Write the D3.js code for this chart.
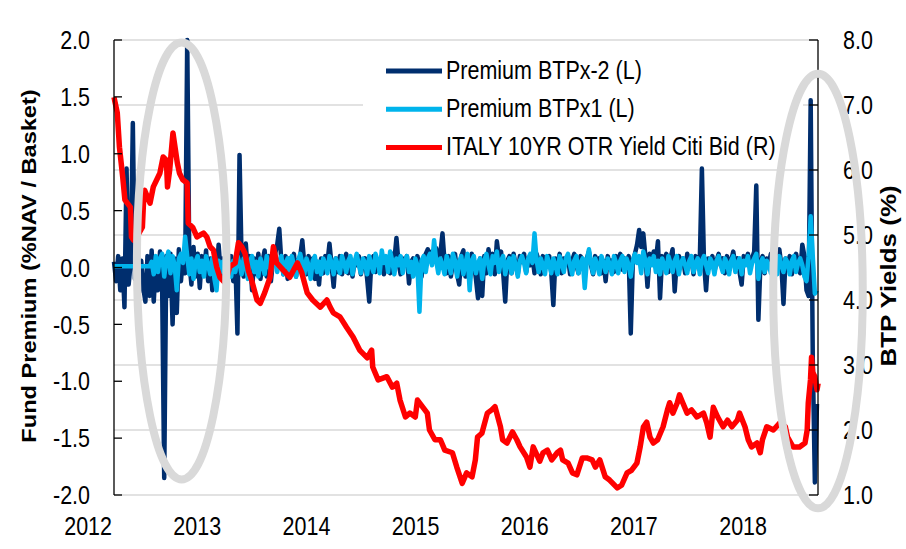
<!DOCTYPE html>
<html>
<head>
<meta charset="utf-8">
<script src="https://cdn.jsdelivr.net/npm/d3@7"></script>
<style>
  html, body { margin: 0; padding: 0; background: #fff; }
  svg { display: block; }
  text { font-family: "Liberation Sans", Arial, sans-serif; fill: #000; }
</style>
</head>
<body>
<svg id="chart" width="906" height="549"></svg>
<script>
// ---------------- DATA ----------------
// Weekly fund premium (% NAV / Basket), first week = first week of Jan 2012
const premiumBTPx2 = [
  // 2012
  0.05,-0.12,0.10,-0.20,0.08,-0.35,0.87,-0.15,0.05,1.27,-0.10,0.12,-0.22,0.06,-0.18,-0.30,0.10,-0.25,0.15,-0.30,0.05,-0.20,0.14,-0.15,-1.85,0.10,
  -0.25,0.12,-0.50,0.08,-0.40,0.16,-0.12,0.10,-0.05,2.00,0.05,-0.15,0.18,-0.08,0.12,-0.18,0.10,-0.05,0.15,-0.12,0.08,-0.20,0.12,-0.10,0.20,-0.05,
  // 2013
  0.08,-0.10,0.12,-0.05,0.10,-0.12,0.06,-0.58,0.99,0.05,-0.08,0.21,-0.05,0.10,-0.20,0.08,-0.06,0.12,-0.10,0.05,0.15,-0.08,0.10,-0.12,0.06,0.12,
  0.20,0.34,0.05,-0.06,0.10,-0.10,0.08,0.02,0.12,-0.08,0.06,0.10,0.24,0.02,-0.06,0.10,-0.04,0.08,-0.10,0.05,-0.15,0.08,-0.05,0.10,0.04,0.21,
  // 2014
  0.02,-0.17,0.08,-0.04,0.10,-0.06,0.05,0.12,-0.05,0.08,-0.08,0.06,0.02,0.10,-0.06,0.04,0.08,-0.10,-0.30,0.05,0.10,-0.04,0.06,0.02,0.10,-0.06,
  0.04,0.08,-0.05,0.12,0.06,0.26,0.04,-0.06,0.08,0.02,0.10,-0.14,0.05,0.08,-0.04,0.10,0.02,-0.08,0.06,0.12,0.16,0.10,0.14,0.05,0.17,0.08,
  // 2015
  0.12,0.30,0.05,-0.05,0.10,-0.08,0.04,0.12,-0.06,-0.15,0.10,0.15,-0.08,0.06,-0.12,0.12,0.05,-0.10,-0.27,0.08,-0.25,0.10,-0.05,0.16,0.04,0.12,
  -0.06,0.23,0.08,0.14,-0.04,-0.30,0.06,0.10,-0.05,0.12,0.02,-0.06,0.10,0.05,0.12,-0.04,0.08,0.02,0.10,-0.05,0.12,0.06,-0.06,0.10,0.04,0.08,
  // 2016
  0.10,-0.04,-0.33,0.08,0.02,0.12,-0.05,0.08,0.04,0.10,-0.06,0.06,0.12,0.02,-0.05,0.10,0.05,-0.04,0.08,0.14,0.02,-0.06,0.10,0.04,0.08,-0.05,
  0.06,-0.12,0.10,0.02,0.06,-0.04,0.10,0.05,0.12,-0.02,0.08,0.04,0.10,-0.58,0.06,0.12,0.20,0.33,0.18,0.30,0.10,-0.17,0.12,0.05,0.14,0.06,
  // 2017
  0.23,-0.27,0.10,0.04,0.12,-0.04,0.08,0.16,-0.21,0.06,0.10,0.02,0.08,-0.05,0.12,0.04,0.08,-0.06,0.10,0.02,0.06,0.87,0.05,-0.20,0.08,0.04,
  0.10,-0.04,0.06,0.12,0.02,0.08,-0.05,0.10,0.04,0.06,0.14,0.02,0.08,-0.04,-0.15,0.10,0.05,0.12,0.02,0.08,0.14,0.72,-0.46,0.04,0.10,-0.05,
  // 2018
  0.08,0.04,0.12,-0.04,0.06,0.10,0.16,0.02,-0.32,0.08,0.02,0.10,-0.06,0.06,0.12,0.04,-0.05,0.20,0.10,-0.20,-0.25,1.47,-0.80,-1.89,-1.20
];
const premiumBTPx1 = [
  // 2012
  0.01,0.01,0.01,0.01,0.01,0.01,0.01,0.01,0.01,0.01,0.01,0.01,0.01,0.01,0.01,0.01,0.01,0.01,0.05,-0.06,0.10,-0.04,0.08,0.12,-0.08,0.06,
  0.14,-0.05,0.10,0.02,-0.20,0.08,0.12,0.04,0.27,0.10,-0.06,0.08,-0.10,0.05,0.10,-0.04,0.06,-0.08,0.10,0.02,-0.06,0.08,-0.10,-0.20,0.06,-0.04,
  // 2013
  0.05,-0.06,0.08,0.02,-0.08,0.06,-0.04,0.10,0.04,-0.06,0.08,0.02,-0.10,0.06,0.10,-0.04,0.05,-0.08,0.08,0.02,-0.06,0.10,0.04,-0.05,0.08,0.12,
  -0.04,0.06,0.10,-0.06,0.04,0.08,-0.05,0.10,0.02,-0.08,0.06,0.12,0.04,-0.06,0.08,0.02,-0.10,0.06,0.10,-0.04,0.05,-0.06,0.08,0.03,-0.05,0.10,
  // 2014
  0.04,-0.06,0.08,0.02,-0.05,0.10,0.04,-0.04,0.06,0.10,-0.06,0.05,0.12,0.02,-0.05,0.08,0.04,-0.06,0.10,0.02,-0.04,0.12,0.06,-0.05,0.15,0.04,
  0.10,-0.04,0.14,0.06,-0.06,0.08,0.02,0.10,-0.05,0.06,0.10,-0.04,0.05,-0.08,0.08,0.02,-0.39,0.06,0.10,-0.04,0.08,0.12,0.02,0.24,0.06,-0.05,
  // 2015
  0.08,0.02,-0.06,0.10,0.04,-0.05,0.12,0.06,-0.08,0.05,0.10,-0.06,0.04,0.12,-0.20,0.06,0.10,-0.05,0.04,0.08,-0.10,0.06,0.12,0.02,-0.06,0.10,
  0.04,0.14,-0.04,0.06,0.10,-0.06,0.04,0.08,-0.05,0.10,0.02,-0.08,0.06,0.10,0.04,-0.05,0.08,0.12,0.04,0.30,0.06,-0.04,0.08,0.02,-0.06,0.10,
  // 2016
  0.04,-0.05,0.08,0.02,-0.06,0.10,0.04,-0.04,0.08,0.12,0.02,-0.06,0.06,0.10,-0.05,0.04,0.08,-0.18,0.06,0.16,0.04,-0.05,0.08,0.02,-0.06,0.10,
  0.04,-0.04,0.08,0.02,-0.06,0.10,0.04,-0.05,0.06,0.10,-0.04,0.08,0.02,-0.08,0.06,0.12,0.04,0.10,-0.05,0.14,0.06,-0.06,0.08,0.02,0.10,-0.04,
  // 2017
  0.06,-0.06,0.08,0.02,-0.05,0.10,0.04,-0.04,0.06,0.10,-0.06,0.04,0.08,0.02,-0.05,0.06,0.10,-0.04,0.04,0.08,-0.06,0.06,0.10,0.02,-0.05,0.08,
  0.04,-0.06,0.06,0.10,0.02,-0.04,0.08,0.04,-0.06,0.06,0.10,-0.04,0.04,0.08,-0.06,0.06,0.02,0.10,-0.05,0.04,0.08,0.12,-0.10,0.04,0.08,-0.04,
  // 2018
  0.06,0.02,-0.05,0.08,0.04,-0.06,0.10,0.02,-0.04,0.08,0.04,-0.06,0.06,0.10,-0.04,0.04,0.08,0.02,-0.08,-0.12,0.10,0.45,0.10,-0.23,-0.20
];
// Italy 10yr OTR yield, Citi bid (%): [decimal year, yield]
const italyYield = [
  [2012.00,7.12],[2012.03,6.88],[2012.05,6.35],[2012.08,5.89],[2012.10,5.54],[2012.15,5.43],[2012.16,4.97],[2012.18,4.92],
  [2012.22,5.00],[2012.26,5.12],[2012.27,5.49],[2012.28,5.69],[2012.33,5.49],[2012.36,5.74],[2012.42,5.95],[2012.45,6.20],
  [2012.48,6.15],[2012.49,5.74],[2012.51,6.00],[2012.54,6.57],[2012.58,6.11],[2012.60,5.95],[2012.63,5.85],[2012.67,5.80],
  [2012.68,5.18],[2012.72,5.12],[2012.76,4.97],[2012.82,5.03],[2012.85,4.97],[2012.88,4.82],[2012.91,4.77],[2012.94,4.51],
  [2012.97,4.35],[2013.02,4.26],[2013.06,4.51],[2013.11,4.57],[2013.14,4.88],[2013.17,4.82],[2013.20,4.72],[2013.23,4.46],
  [2013.26,4.31],[2013.31,4.00],[2013.34,3.95],[2013.38,4.11],[2013.43,4.35],[2013.46,4.82],[2013.49,4.57],[2013.55,4.46],
  [2013.61,4.35],[2013.68,4.57],[2013.72,4.42],[2013.77,4.11],[2013.82,4.00],[2013.89,3.89],[2013.95,4.00],[2013.98,3.89],
  [2014.01,3.80],[2014.07,3.74],[2014.13,3.58],[2014.19,3.43],[2014.25,3.23],[2014.32,3.11],[2014.36,3.23],[2014.37,2.97],
  [2014.42,2.77],[2014.50,2.82],[2014.55,2.66],[2014.59,2.72],[2014.62,2.46],[2014.67,2.20],[2014.71,2.26],[2014.76,2.20],
  [2014.78,2.46],[2014.87,2.26],[2014.89,2.00],[2014.94,1.85],[2014.99,1.85],[2015.03,1.69],[2015.10,1.65],[2015.14,1.43],
  [2015.19,1.18],[2015.23,1.34],[2015.28,1.28],[2015.31,1.54],[2015.33,1.89],[2015.37,1.95],[2015.42,2.26],[2015.46,2.31],
  [2015.49,2.36],[2015.54,2.05],[2015.56,1.85],[2015.60,1.80],[2015.65,1.97],[2015.69,1.85],[2015.72,1.74],[2015.78,1.58],
  [2015.81,1.43],[2015.84,1.74],[2015.90,1.52],[2015.93,1.65],[2015.97,1.69],[2016.01,1.54],[2016.06,1.65],[2016.09,1.69],
  [2016.11,1.54],[2016.16,1.49],[2016.20,1.34],[2016.24,1.31],[2016.29,1.57],[2016.33,1.57],[2016.38,1.54],[2016.41,1.43],
  [2016.45,1.54],[2016.50,1.28],[2016.54,1.23],[2016.61,1.11],[2016.65,1.15],[2016.70,1.34],[2016.74,1.38],[2016.79,1.49],
  [2016.82,1.74],[2016.85,2.05],[2016.88,2.12],[2016.91,1.89],[2016.94,1.80],[2016.98,1.85],[2017.03,2.05],[2017.07,2.31],
  [2017.09,2.42],[2017.12,2.26],[2017.16,2.42],[2017.18,2.54],[2017.21,2.42],[2017.25,2.26],[2017.29,2.31],[2017.34,2.20],
  [2017.40,2.26],[2017.43,2.11],[2017.46,1.89],[2017.49,2.35],[2017.53,2.20],[2017.58,2.05],[2017.62,2.15],[2017.66,2.05],
  [2017.71,2.15],[2017.73,2.26],[2017.78,2.05],[2017.81,1.85],[2017.84,1.74],[2017.89,1.80],[2017.92,1.65],[2017.94,1.85],
  [2017.98,2.05],[2018.04,2.00],[2018.10,2.11],[2018.15,2.05],[2018.17,1.89],[2018.22,1.74],[2018.28,1.74],[2018.33,1.80],
  [2018.35,2.00],[2018.36,2.42],[2018.38,2.77],[2018.39,3.12],[2018.40,2.89],[2018.42,2.82],[2018.44,2.62],[2018.45,2.72]
];
const yearTicks = [2012, 2013, 2014, 2015, 2016, 2017, 2018];
const leftTicks = [-2.0, -1.5, -1.0, -0.5, 0.0, 0.5, 1.0, 1.5, 2.0];
const rightTicks = [1.0, 2.0, 3.0, 4.0, 5.0, 6.0, 7.0, 8.0];
const legendLabels = ["Premium BTPx-2 (L)", "Premium BTPx1 (L)", "ITALY 10YR OTR Yield Citi Bid (R)"];
const titleLeft = "Fund Premium (%NAV / Basket)";
const titleRight = "BTP Yields (%)";
// highlight ellipses: [centre year, centre premium, half-width in years, half-height in premium units]
const highlights = [[2012.62, 0.057, 0.41, 1.92], [2018.449, -0.207, 0.41, 1.91]];

// ---------------- CHART ----------------
const colors = ["#002E6E", "#00B4EC", "#FF0000"];
const SY = 1.18, FS = 21.5;
const svg = d3.select("#chart");
const x = d3.scaleLinear().domain([2012, 2018.449]).range([114, 818]);
const yL = d3.scaleLinear().domain([-2, 2]).range([495, 40]);
const yR = d3.scaleLinear().domain([1, 8]).range([495, 40]);
const weekYear = i => 2012 + i * 7 / 365.25;

function label(g, tx, ty, s, anchor, opts = {}) {
  return g.append("text")
    .attr("transform", `translate(${tx},${ty}) scale(1,${SY})${opts.rot ? " rotate(-90)" : ""}`)
    .attr("text-anchor", anchor)
    .attr("dy", "0.36em")
    .style("font-size", (opts.size || FS) + "px")
    .style("font-weight", opts.bold ? "bold" : "normal")
    .text(s);
}

// gridlines (right-axis ticks)
svg.append("g").selectAll("line").data(rightTicks).join("line")
  .attr("x1", x.range()[0]).attr("x2", x.range()[1])
  .attr("y1", d => yR(d)).attr("y2", d => yR(d))
  .attr("stroke", "#d9d9d9").attr("stroke-width", 1.5);

// legend background
svg.append("rect").attr("x", 363).attr("y", 46).attr("width", 440).attr("height", 118).attr("fill", "#fff");

// series
const lineL = d3.line().x((d, i) => x(weekYear(i))).y(d => yL(d)).curve(d3.curveLinear);
svg.append("path").datum(premiumBTPx2).attr("d", lineL)
  .attr("fill", "none").attr("stroke", colors[0]).attr("stroke-width", 4.5).attr("stroke-linejoin", "round");
svg.append("path").datum(premiumBTPx1).attr("d", lineL)
  .attr("fill", "none").attr("stroke", colors[1]).attr("stroke-width", 4.5).attr("stroke-linejoin", "round");
const lineR = d3.line().x(d => x(d[0])).y(d => yR(d[1]));
svg.append("path").datum(italyYield).attr("d", lineR)
  .attr("fill", "none").attr("stroke", colors[2]).attr("stroke-width", 5.5).attr("stroke-linejoin", "round");

// axes
const ax = svg.append("g").attr("stroke", "#000").attr("stroke-width", 1.3);
ax.append("line").attr("x1", 114).attr("x2", 114).attr("y1", 40).attr("y2", 495);
ax.append("line").attr("x1", 818).attr("x2", 818).attr("y1", 40).attr("y2", 495);
ax.selectAll(".lt").data(leftTicks).join("line").attr("class", "lt")
  .attr("x1", 114).attr("x2", 122).attr("y1", d => yL(d)).attr("y2", d => yL(d));
ax.selectAll(".rt").data(rightTicks).join("line").attr("class", "rt")
  .attr("x1", 809).attr("x2", 818).attr("y1", d => yR(d)).attr("y2", d => yR(d));

const tg = svg.append("g");
leftTicks.forEach(v => label(tg, 90, yL(v), v.toFixed(1), "end"));
rightTicks.forEach(v => label(tg, 843, yR(v), v.toFixed(1), "start"));
yearTicks.forEach(v => label(tg, x(v) - 2, 526, String(v), "end"));
label(tg, 29, 266, titleLeft, "middle", { rot: true, bold: true, size: 20 });
label(tg, 888, 276, titleRight, "middle", { rot: true, bold: true, size: 22 });

// legend
const lg = svg.append("g");
legendLabels.forEach((s, i) => {
  const ly = 71 + i * 38.3;
  lg.append("line").attr("x1", 386).attr("x2", 442).attr("y1", ly).attr("y2", ly)
    .attr("stroke", colors[i]).attr("stroke-width", 5);
  label(lg, 446, ly - 1.5, s, "start");
});

// highlight ellipses
svg.append("g").selectAll("ellipse").data(highlights).join("ellipse")
  .attr("cx", d => x(d[0])).attr("cy", d => yL(d[1]))
  .attr("rx", d => x(2012 + d[2]) - x(2012))
  .attr("ry", d => yL(0) - yL(d[3]))
  .attr("fill", "none").attr("stroke", "#d9d9d9").attr("stroke-width", 8);
</script>
</body>
</html>
